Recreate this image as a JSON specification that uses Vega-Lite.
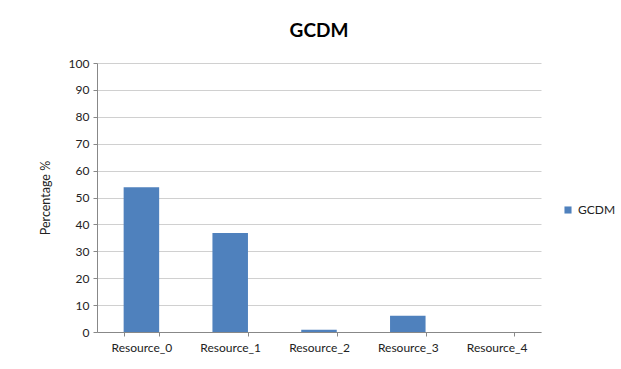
{
  "$schema": "https://vega.github.io/schema/vega-lite/v6.json",
  "autosize": "none",
  "width": 444,
  "height": 269,
  "padding": {"left": 97, "top": 63, "right": 80, "bottom": 37},
  "background": "white",
  "title": {"text": "GCDM", "font": "Lato", "fontSize": 19, "fontWeight": "bold", "color": "#000000", "anchor": "middle", "offset": 16},
  "data": {"values": [
    {"resource": "Resource_0", "pct": 53.8, "series": "GCDM"},
    {"resource": "Resource_1", "pct": 36.8, "series": "GCDM"},
    {"resource": "Resource_2", "pct": 0.8, "series": "GCDM"},
    {"resource": "Resource_3", "pct": 6.0, "series": "GCDM"},
    {"resource": "Resource_4", "pct": 0, "series": "GCDM"}
  ]},
  "mark": {"type": "bar"},
  "encoding": {
    "x": {"field": "resource", "type": "nominal", "sort": null,
      "scale": {"paddingInner": 0.6, "paddingOuter": 0.3},
      "axis": {"title": null, "labelAngle": 0, "labelFont": "Lato", "labelFontSize": 12, "labelColor": "#222222", "tickBand": "extent", "tickColor": "#888888", "tickSize": 4, "domainColor": "#888888", "grid": false, "labelPadding": 6}},
    "y": {"field": "pct", "type": "quantitative",
      "scale": {"domain": [0, 100]},
      "axis": {"title": "Percentage %", "titleFont": "Lato", "titleFontSize": 12.5, "titleFontWeight": "normal", "titleColor": "#222222", "titlePadding": 16, "values": [0,10,20,30,40,50,60,70,80,90,100], "labelFont": "Lato", "labelFontSize": 12, "labelColor": "#222222", "tickColor": "#888888", "tickSize": 4, "domainColor": "#888888", "gridColor": "#d0d0d0", "labelPadding": 4}},
    "color": {"field": "series", "type": "nominal",
      "scale": {"range": ["#4F81BD"]},
      "legend": {"title": null, "orient": "none", "legendX": 465, "legendY": 141, "symbolType": "square", "symbolSize": 50, "labelFont": "Lato", "labelFontSize": 12, "labelColor": "#222222", "symbolStrokeWidth": 0}}
  },
  "config": {"view": {"stroke": null}}
}
